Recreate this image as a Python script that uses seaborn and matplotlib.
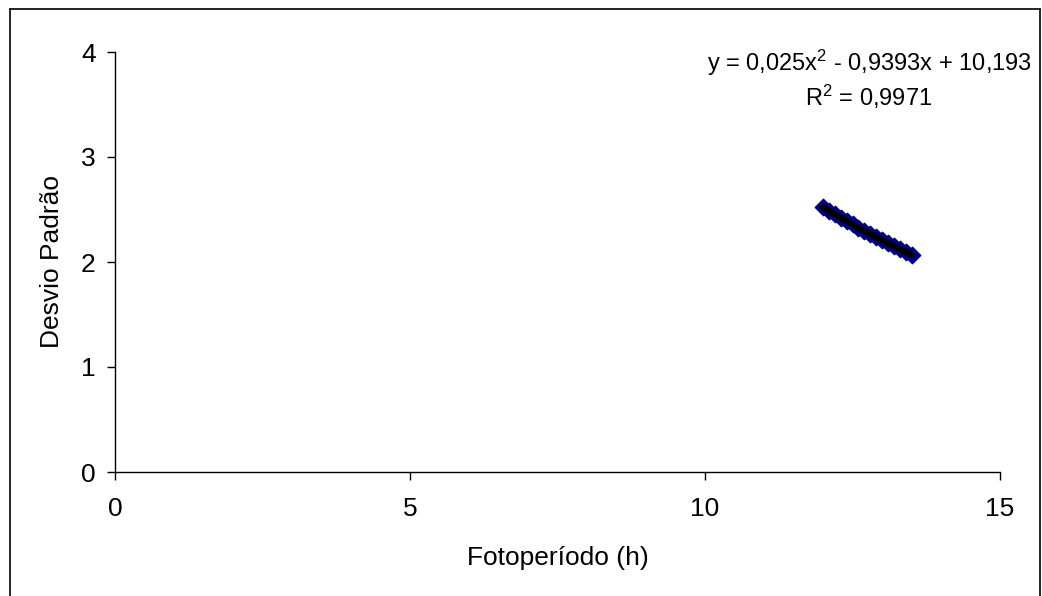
import matplotlib
matplotlib.use("Agg")
import matplotlib.pyplot as plt
import seaborn as sns
import pandas as pd
from matplotlib.lines import Line2D

fotoperiodo = [12.0, 12.1, 12.2, 12.3, 12.4, 12.5, 12.6, 12.7, 12.8, 12.9,
               13.0, 13.1, 13.2, 13.3, 13.4, 13.5]
desvio = [2.52, 2.49, 2.455, 2.42, 2.39, 2.36, 2.325, 2.295, 2.265, 2.235,
          2.21, 2.18, 2.15, 2.12, 2.095, 2.07]
x_ticks = [0, 5, 10, 15]
y_ticks = [0, 1, 2, 3, 4]
equation = "y = 0,025x$^2$ - 0,9393x + 10,193\nR$^2$ = 0,9971"

sns.set_theme(style="white")
plt.rcParams["font.family"] = ["Liberation Sans", "DejaVu Sans"]
plt.rcParams["mathtext.fontset"] = "custom"
plt.rcParams["mathtext.rm"] = "Liberation Sans"
plt.rcParams["mathtext.it"] = "Liberation Sans"
plt.rcParams["text.color"] = "black"
plt.rcParams["axes.labelcolor"] = "black"

df = pd.DataFrame({"x": fotoperiodo, "y": desvio})

fig = plt.figure(figsize=(10.42, 5.96), dpi=100)
ax = fig.add_axes([115/1042, 1 - 472/596, (1000-115)/1042, (472-52)/596])

sns.regplot(data=df, x="x", y="y", order=2, ci=None, ax=ax,
            marker="D",
            scatter_kws=dict(s=70, color="#000080", edgecolor="#000080", linewidths=1, alpha=1, zorder=2),
            line_kws=dict(color="black", lw=4.5, zorder=3))

ax.set_xlim(0, 15)
ax.set_ylim(0, 4)
ax.set_xticks(x_ticks)
ax.set_yticks(y_ticks)
ax.set_xlabel("Fotoperíodo (h)", fontsize=19, labelpad=18, color="black")
ax.set_ylabel("Desvio Padrão", fontsize=19, labelpad=12, color="black")
ax.tick_params(axis="both", which="both", direction="out", length=6, width=1,
               colors="black", labelsize=19, left=True, bottom=True)
ax.tick_params(axis="x", pad=12)
ax.tick_params(axis="y", pad=8)
for s in ["top", "right"]:
    ax.spines[s].set_visible(False)
for s in ["left", "bottom"]:
    ax.spines[s].set_color("black")
    ax.spines[s].set_linewidth(1)

fig.text(869/1042, 1 - 48/596, equation, ha="center", va="top", fontsize=17,
         linespacing=1.2, color="black")

# outer chart frame
W, H = 1042, 596
for (x0, y0, x1, y1) in [(9.5, 8.5, 1039.5, 8.5), (9.5, 8.5, 9.5, 600), (1039.5, 8.5, 1039.5, 600)]:
    fig.add_artist(Line2D([x0/W, x1/W], [1-y0/H, 1-y1/H], color="black", lw=1.2,
                          transform=fig.transFigure))

fig.savefig("out.png", dpi=100)
